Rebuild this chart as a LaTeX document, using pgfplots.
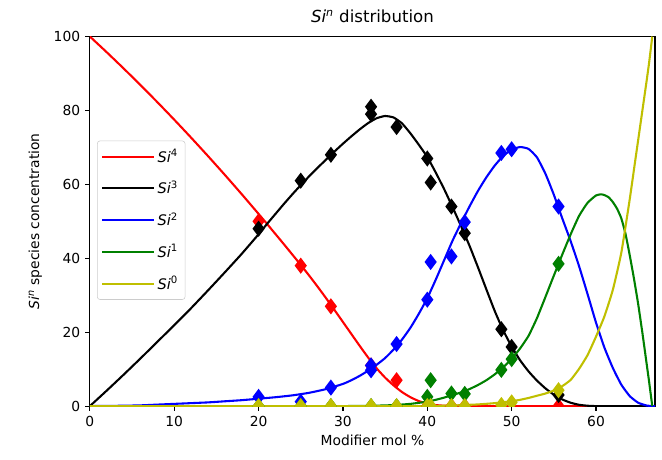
\documentclass[border=0pt]{standalone}
\usepackage{fontspec}
\setmainfont{DejaVu Sans}
\usepackage{pgfplots}
\pgfplotsset{compat=1.18}
\definecolor{mplred}{rgb}{1,0,0}
\definecolor{mplblue}{rgb}{0,0,1}
\definecolor{mplgreen}{rgb}{0,0.5,0}
\definecolor{mplyellow}{rgb}{0.75,0.75,0}
\newcommand{\Si}[1]{\textit{Si}\textsuperscript{#1}}
\begin{document}
\begin{tikzpicture}
\path[use as bounding box] (-64.7bp,-38.2bp) rectangle (411.8bp,292.3bp);
\begin{axis}[
  scale only axis, width=406.8bp, height=266bp,
  xmin=0, xmax=67, ymin=0, ymax=100, enlargelimits=false,
  xtick={0,10,...,60}, ytick={0,20,...,100},
  xtick pos=bottom, ytick pos=left, tick align=outside,
  major tick length=3.5bp,
  axis line style={line width=0.8bp},
  every tick/.style={black,line width=0.8bp},
  /pgf/number format/assume math mode=true,
  tick label style={font=\fontsize{10}{12}\selectfont},
  label style={font=\fontsize{10}{12}\selectfont},
  title={\Si{\textit{n}} distribution},
  title style={font=\fontsize{12}{14}\selectfont, at={(axis description cs:0.5,1)}, anchor=base, yshift=3.8bp},
  xlabel={Modifier mol \%},
  xlabel style={at={(axis description cs:0.5,0)}, anchor=base, yshift=-28.5bp},
  ylabel={\Si{\textit{n}} species concentration},
  ylabel style={at={(axis description cs:-0.09,0.5)}, anchor=base},
  clip marker paths=true,
  legend style={at={(axis description cs:0.0126,0.503)}, anchor=west,
    draw=black!20, rounded corners=2bp, fill=white, fill opacity=0.8, text opacity=1,
    font=\fontsize{10.5}{12}\selectfont, row sep=8bp, inner xsep=3bp, inner ysep=4bp,
    nodes={inner xsep=2bp}},
  legend cell align=left,
  legend image code/.code={\draw[#1, line width=1.5bp] (0bp,0bp) -- (37bp,0bp);},
  every axis plot/.append style={line width=1.5bp},
  curve/.style={no marks, smooth, tension=0.3},
]
% model curves
\addplot[mplred, curve] coordinates {
 (0,100) (2,95.74) (4,91.36) (6,86.86) (8,82.24) (10,77.5) (12,72.64) (14,67.66) (16,62.56) (18,57.34)
 (20,52.0) (21,49.3) (22,46.55) (23,43.8) (24,41.0) (25,38.2) (26,35.3) (27,32.3) (28,29.2) (29,26.0)
 (30,22.75) (31,19.5) (32,16.25) (33,13.1) (34,10.2) (35,7.7) (36,5.6) (37,3.8) (38,2.4) (39,1.35)
 (40,0.65) (41,0.28) (42,0.1) (43,0.03) (44,0) (46,0) (50,0) (55,0) (60,0) (67,0)
};
\addlegendentry{\Si{4}}
\addplot[black, curve] coordinates {
 (0,0) (2,4.2) (4,8.5) (6,12.9) (8,17.4) (10,21.9) (12,26.5) (14,31.3) (16,36.2) (18,41.2)
 (20,46.5) (21,49.3) (22,52.0) (23,54.7) (24,57.3) (25,59.8) (26,62.2) (27,64.5) (28,66.7) (29,68.9)
 (30,71.0) (31,73.0) (32,74.9) (33,76.6) (34,77.9) (35,78.5) (36,78.1) (37,76.5) (38,73.8) (39,70.7)
 (40,67.4) (41,63.2) (42,58.7) (43,53.8) (44,48.7) (45,43.4) (46,37.6) (47,31.6) (48,25.7) (49,20.5)
 (50,16.1) (51,12.4) (52,9.4) (53,6.9) (54,4.8) (55,3.1) (56,1.8) (57,0.9) (58,0.35) (59,0.1)
 (60,0) (62,0) (64,0) (67,0)
};
\addlegendentry{\Si{3}}
\addplot[mplblue, curve] coordinates {
 (0,0) (2,0.05) (4,0.1) (6,0.2) (8,0.4) (10,0.6) (12,0.8) (14,1.0) (16,1.3) (18,1.6)
 (20,2.0) (22,2.4) (24,2.9) (26,3.6) (28,4.6) (30,6.0) (31,7.0) (32,8.2) (33,9.6) (34,11.2)
 (35,13.0) (36,15.3) (37,18.0) (38,21.2) (39,25.0) (40,29.2) (41,34.2) (42,39.5) (43,44.8) (44,49.5)
 (45,54.0) (46,58.2) (47,61.9) (48,65.1) (49,67.7) (50,69.4) (51,70.1) (52,69.6) (53,67.3) (54,62.9)
 (55,57.2) (56,50.8) (57,44.6) (58,37.8) (59,30.3) (60,22.6) (61,15.8) (62,10.3) (63,5.8) (64,2.7)
 (65,0.9) (66,0.15) (66.67,0) (67,0)
};
\addlegendentry{\Si{2}}
\addplot[mplgreen, curve] coordinates {
 (0,0) (5,0) (10,0) (15,0) (20,0) (25,0) (28,0) (30,0) (32,0.05) (34,0.12)
 (36,0.27) (38,0.6) (40,1.2) (41,1.7) (42,2.3) (43,3.0) (44,3.7) (45,4.6) (46,5.7) (47,7.0)
 (48,8.6) (49,10.5) (50,12.8) (51,15.6) (52,19.0) (53,23.8) (54,29.5) (55,35.3) (56,41.0) (57,46.5)
 (58,51.5) (59,55.0) (60,57.0) (60.6,57.3) (61,57.1) (61.5,56.5) (62,55.2) (62.5,53.4) (63,50.8) (63.5,46.6)
 (64,40.8) (64.5,34.5) (65,27.6) (65.5,19.8) (66,11.5) (66.3,6.5) (66.67,0)
};
\addlegendentry{\Si{1}}
\addplot[mplyellow, curve] coordinates {
 (0,0) (5,0) (10,0) (15,0) (20,0) (25,0) (30,0) (35,0) (38,0) (40,0)
 (42,0.1) (44,0.25) (46,0.45) (48,0.8) (50,1.3) (51,1.7) (52,2.2) (53,2.8) (54,3.4) (55,4.2)
 (56,5.4) (57,7.1) (58,10.1) (59,13.8) (60,18.8) (61,24.3) (62,31.5) (63,41.5) (64,56.0) (64.5,64.0)
 (65,72.0) (65.5,80.0) (66,88.0) (66.3,93.0) (66.67,100)
};
\addlegendentry{\Si{0}}
% measured points
\addplot[mplred, only marks, mark=diamond*, mark size=4.6bp, forget plot] coordinates {
 (20,50) (25,38) (28.57,27) (33.33,11) (36.36,7) (40,0) (42.86,0) (44.44,0) (55.56,0)
};
\addplot[black, only marks, mark=diamond*, mark size=4.6bp, forget plot] coordinates {
 (20,48) (25,61) (28.57,68) (33.33,81) (33.33,79) (36.36,75.5) (40,67) (40.4,60.5)
 (42.86,54) (44.44,46.8) (48.78,20.8) (50,16) (55.56,3)
};
\addplot[mplblue, only marks, mark=diamond*, mark size=4.6bp, forget plot] coordinates {
 (20,2.5) (25,1.2) (28.57,5) (33.33,9.7) (33.33,11) (36.36,16.8) (40,28.8) (40.4,39)
 (42.86,40.5) (44.44,49.8) (48.78,68.5) (50,69.5) (55.56,54)
};
\addplot[mplgreen, only marks, mark=diamond*, mark size=4.6bp, forget plot] coordinates {
 (20,0) (25,0) (28.57,0) (33.33,0) (36.36,0) (40,2.5) (40.4,7) (42.86,3.4) (44.44,3.3)
 (48.78,9.8) (50,12.7) (55.56,38.5)
};
\addplot[mplyellow, only marks, mark=diamond*, mark size=4.6bp, forget plot] coordinates {
 (20,0) (25,0) (28.57,0) (33.33,0) (36.36,0) (40,0) (40.4,0) (42.86,0) (44.44,0)
 (48.78,0.3) (50,1) (55.56,4.3)
};
\end{axis}
\end{tikzpicture}
\end{document}
